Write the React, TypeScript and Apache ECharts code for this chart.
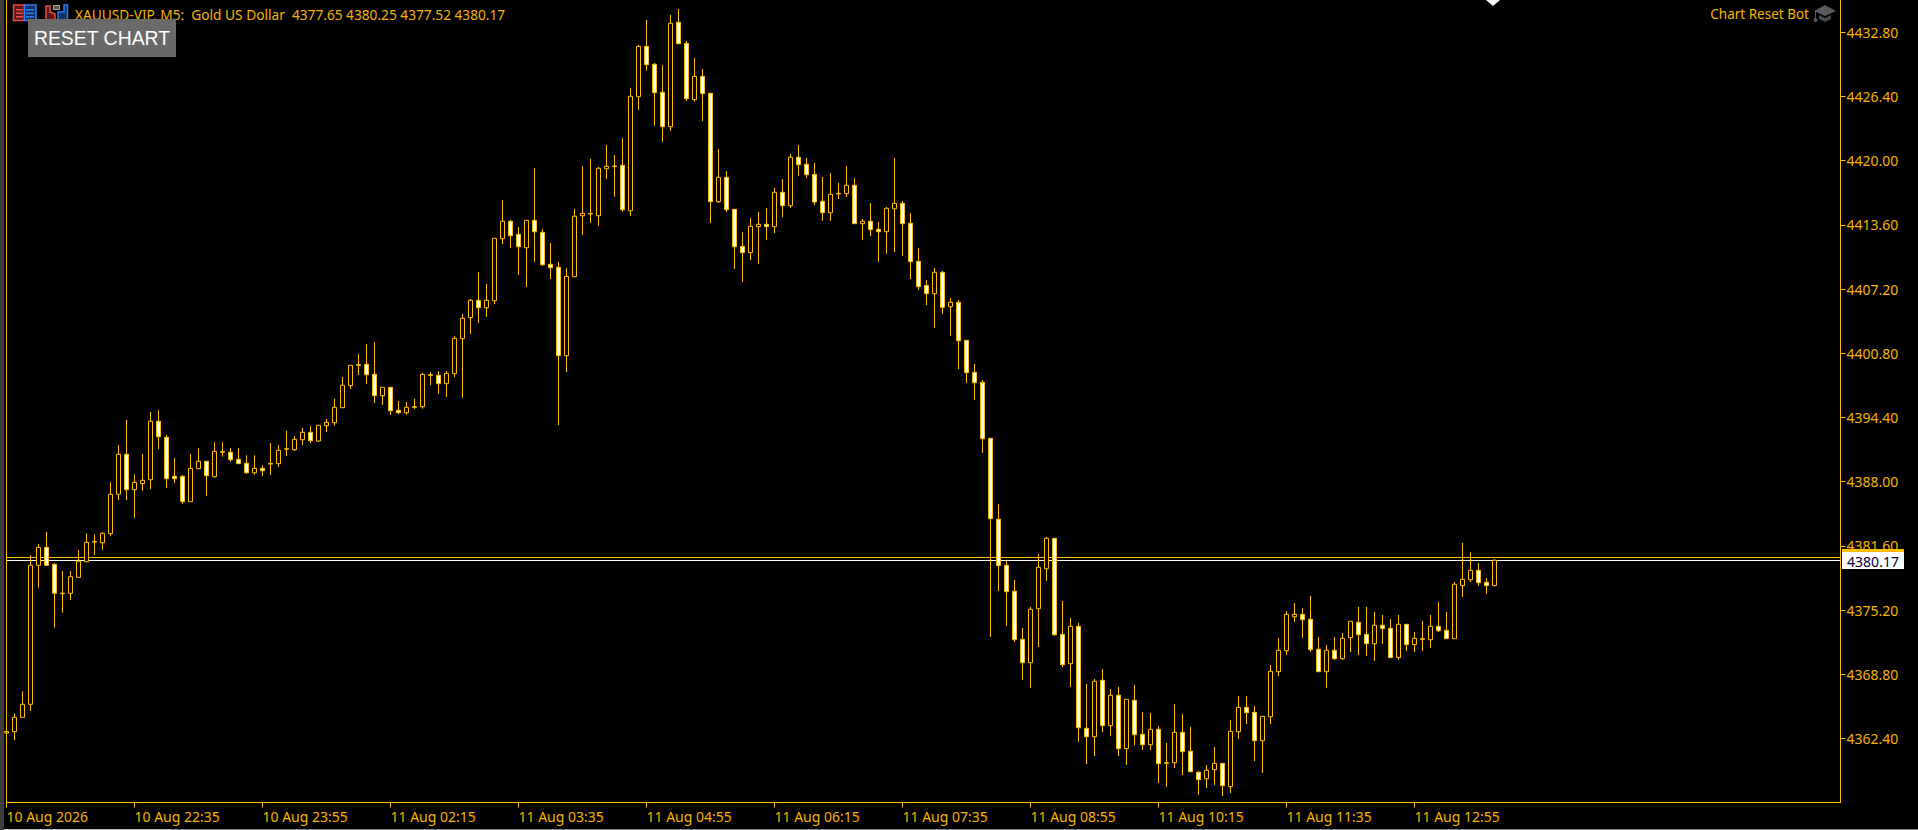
import React, { useEffect, useRef } from "react";
import * as echarts from "echarts";

const opens = [4362.94,4363.07,4364.50,4365.80,4379.66,4381.45,4379.76,4376.88,4376.87,4378.46,4380.02,4381.97,4381.91,4382.81,4386.74,4390.73,4387.20,4387.80,4388.19,4394.02,4392.42,4388.53,4388.53,4386.00,4389.29,4390.03,4388.49,4390.99,4390.93,4390.23,4389.83,4388.89,4389.33,4389.76,4389.79,4391.23,4391.19,4392.18,4392.92,4392.05,4393.58,4393.88,4395.37,4397.57,4399.66,4399.70,4398.70,4396.57,4397.41,4395.11,4394.87,4395.47,4395.47,4398.66,4398.60,4397.77,4398.76,4402.25,4404.35,4406.08,4405.34,4406.04,4412.22,4413.96,4412.66,4411.32,4414.06,4412.86,4409.67,4409.37,4400.56,4408.43,4414.51,4414.74,4414.51,4419.20,4419.47,4419.54,4415.01,4426.38,4431.40,4429.61,4426.82,4423.39,4433.80,4431.70,4426.08,4428.41,4426.72,4415.91,4418.34,4415.15,4411.46,4410.83,4413.42,4413.66,4413.42,4416.85,4415.51,4420.34,4419.64,4418.64,4415.95,4414.81,4416.74,4416.71,4417.55,4413.72,4413.96,4413.16,4412.92,4415.21,4415.75,4413.76,4409.97,4407.56,4406.74,4408.87,4405.44,4405.88,4402.09,4398.90,4397.90,4392.32,4384.25,4379.66,4377.07,4372.28,4369.95,4375.33,4379.32,4382.35,4372.78,4369.85,4373.58,4363.41,4362.57,4368.19,4363.67,4366.70,4361.38,4366.20,4362.81,4361.77,4363.31,4359.98,4359.98,4363.01,4361.12,4359.02,4358.38,4359.28,4359.92,4357.59,4363.07,4365.50,4365.00,4362.17,4364.56,4369.05,4371.15,4374.53,4374.77,4374.28,4371.29,4369.05,4371.19,4370.35,4372.44,4373.98,4372.78,4371.84,4373.68,4373.38,4370.45,4373.78,4371.75,4372.34,4372.24,4373.58,4373.18,4372.34,4377.63,4378.22,4379.16,4377.97,4377.65];
const closes = [4363.09,4364.50,4365.80,4379.66,4381.45,4379.66,4376.87,4376.82,4378.52,4380.06,4381.95,4382.03,4382.85,4386.74,4390.73,4387.20,4387.93,4388.13,4394.02,4392.48,4388.29,4388.29,4386.00,4389.33,4390.03,4388.59,4391.02,4390.93,4390.19,4389.79,4388.89,4389.33,4389.09,4389.82,4391.13,4391.29,4392.22,4392.92,4392.08,4393.62,4393.92,4395.41,4397.61,4399.60,4399.60,4398.66,4396.57,4397.41,4395.07,4394.87,4395.41,4395.41,4398.70,4398.60,4397.77,4398.80,4402.29,4404.29,4406.08,4405.34,4406.08,4412.26,4413.96,4412.52,4411.42,4414.06,4412.92,4409.63,4409.33,4400.56,4408.47,4414.46,4414.75,4414.68,4419.24,4419.44,4419.41,4415.11,4426.42,4431.40,4429.57,4426.78,4423.39,4433.70,4431.66,4426.18,4428.41,4426.68,4415.91,4418.34,4415.11,4411.42,4410.83,4413.46,4413.66,4413.42,4416.85,4415.51,4420.34,4419.60,4418.60,4415.88,4414.81,4416.65,4416.68,4417.55,4413.72,4413.96,4413.12,4412.92,4415.25,4415.75,4413.72,4409.93,4407.44,4406.74,4408.87,4405.38,4405.88,4402.05,4398.86,4397.86,4392.28,4384.31,4379.62,4377.03,4372.24,4369.95,4375.27,4379.46,4382.35,4372.74,4369.75,4373.58,4363.47,4362.57,4368.09,4363.67,4366.70,4361.38,4366.30,4362.77,4361.77,4363.31,4359.88,4359.92,4363.01,4361.08,4359.08,4358.29,4359.22,4359.92,4357.69,4363.11,4365.50,4364.97,4362.17,4364.60,4369.09,4371.19,4374.77,4374.77,4374.24,4371.25,4369.05,4371.19,4370.35,4372.38,4374.08,4372.74,4371.84,4373.68,4373.34,4370.45,4373.78,4371.75,4372.38,4372.28,4373.58,4373.14,4372.34,4377.77,4378.26,4379.16,4377.93,4377.63,4380.17];
const highs = [4363.30,4364.90,4367.10,4380.69,4381.78,4382.98,4379.86,4379.09,4379.09,4381.19,4382.85,4382.75,4382.95,4387.96,4391.65,4394.15,4388.73,4390.76,4394.94,4395.14,4392.65,4390.36,4388.66,4390.76,4391.35,4390.03,4391.92,4391.92,4391.35,4391.35,4390.63,4390.63,4389.63,4391.85,4391.65,4393.05,4392.55,4393.35,4393.55,4393.62,4394.25,4396.24,4398.43,4399.60,4400.73,4401.72,4401.92,4397.41,4397.41,4396.04,4395.94,4396.24,4398.83,4398.93,4399.03,4399.03,4402.52,4404.71,4406.21,4408.90,4407.70,4412.26,4416.08,4414.09,4413.39,4414.06,4419.27,4413.19,4411.79,4409.90,4409.30,4415.18,4419.47,4420.17,4419.37,4421.56,4420.57,4422.26,4427.25,4431.53,4434.03,4429.74,4429.54,4434.52,4435.12,4431.93,4430.24,4429.14,4426.72,4421.17,4418.97,4415.15,4412.89,4414.29,4414.88,4415.28,4417.28,4418.17,4420.67,4421.56,4420.27,4419.77,4418.37,4418.77,4417.78,4419.47,4418.27,4414.19,4415.78,4413.89,4415.38,4420.27,4415.98,4414.78,4411.29,4408.10,4409.30,4409.00,4406.31,4406.11,4402.09,4399.73,4398.13,4392.32,4385.77,4380.09,4378.20,4373.41,4375.50,4380.79,4382.48,4382.35,4376.10,4374.41,4373.91,4367.83,4368.32,4369.32,4367.33,4367.53,4366.30,4367.73,4365.03,4364.93,4363.64,4361.94,4365.83,4364.83,4363.54,4359.15,4359.75,4361.55,4359.92,4364.24,4366.63,4366.63,4365.63,4364.60,4369.72,4372.41,4375.10,4375.90,4375.40,4376.60,4372.51,4371.71,4372.51,4372.91,4374.08,4375.50,4375.50,4375.00,4374.70,4374.31,4374.70,4373.78,4373.01,4374.11,4374.70,4376.00,4375.00,4378.00,4381.88,4380.99,4379.89,4378.39,4380.25];
const lows = [4362.70,4362.24,4364.50,4365.13,4377.43,4379.59,4373.44,4374.93,4376.20,4378.46,4379.96,4380.69,4381.19,4382.58,4386.17,4386.17,4384.38,4387.07,4387.27,4391.26,4387.37,4387.86,4385.77,4386.00,4389.29,4386.57,4388.39,4390.49,4389.99,4389.79,4388.76,4388.69,4388.56,4388.66,4389.46,4390.56,4391.06,4391.65,4391.85,4391.95,4392.95,4393.58,4395.37,4397.24,4398.63,4397.74,4395.84,4395.64,4394.64,4394.74,4394.67,4395.24,4395.27,4397.64,4396.74,4396.44,4398.43,4396.34,4402.72,4403.82,4404.41,4405.71,4411.69,4411.29,4408.60,4407.41,4409.90,4409.50,4408.20,4393.65,4398.93,4408.43,4412.59,4413.79,4413.49,4418.17,4416.41,4414.91,4414.48,4425.05,4428.97,4423.46,4421.86,4422.96,4431.66,4425.95,4425.88,4423.96,4413.79,4415.78,4414.88,4409.20,4407.90,4410.10,4409.70,4412.09,4412.79,4414.39,4415.28,4418.47,4418.27,4415.58,4413.99,4413.99,4416.18,4416.38,4413.72,4412.09,4412.49,4409.90,4410.70,4410.90,4410.50,4408.20,4407.11,4405.61,4403.32,4404.71,4402.52,4399.23,4397.84,4396.14,4390.86,4372.51,4377.10,4373.61,4372.01,4368.22,4367.43,4371.51,4378.10,4372.61,4369.52,4367.53,4362.04,4359.85,4360.65,4363.04,4362.64,4360.65,4359.75,4361.74,4361.24,4361.24,4357.96,4357.56,4359.45,4358.75,4359.08,4356.76,4357.46,4357.76,4356.66,4356.96,4362.34,4363.84,4360.15,4358.95,4363.84,4368.62,4370.72,4374.01,4372.41,4371.02,4369.05,4367.43,4370.22,4370.22,4371.02,4370.72,4370.62,4370.12,4371.81,4370.45,4370.22,4371.12,4371.02,4371.12,4371.41,4373.01,4372.34,4372.34,4376.50,4378.00,4377.60,4376.80,4377.52];

const timeTicks = ["10 Aug 2026","10 Aug 22:35","10 Aug 23:55","11 Aug 02:15","11 Aug 03:35","11 Aug 04:55","11 Aug 06:15","11 Aug 07:35","11 Aug 08:55","11 Aug 10:15","11 Aug 11:35","11 Aug 12:55"];
const priceTicks = [4432.8,4426.4,4420.0,4413.6,4407.2,4400.8,4394.4,4388.0,4381.6,4375.2,4368.8,4362.4];
const bidPrice = 4380.17;
const askPrice = 4380.5;
const headerText = "XAUUSD-VIP, M5:  Gold US Dollar  4377.65 4380.25 4377.52 4380.17";

const GOLD = "#FFBE00";
const TEXT_GOLD = "#F4B400";
const LABEL_FONT = "'Noto Sans', sans-serif";
const SLOTS = 230;
const TICK_EVERY = 16;

export default function App() {
  const ref = useRef<HTMLDivElement>(null);
  useEffect(() => {
    document.body.style.margin = "0";
    document.body.style.overflow = "hidden";
    const chart = echarts.init(ref.current!, null, { renderer: "svg" });
    const categories = Array.from({ length: SLOTS }, (_, i) =>
      i % TICK_EVERY === 0 && i / TICK_EVERY < timeTicks.length ? timeTicks[i / TICK_EVERY] : ""
    );
    const showTick = (i: number) => i % TICK_EVERY === 0 && i / TICK_EVERY < timeTicks.length;
    const rect = (x: number, y: number, w: number, h: number, fill: string, extra: any = {}) => ({
      type: "rect", shape: { x, y, width: w, height: h }, style: { fill, ...extra }, z: 50, silent: true,
    });
    chart.setOption({
      animation: false,
      backgroundColor: "#000000",
      grid: { left: 6.5, top: 0, width: 1832, height: 802.5, containLabel: false },
      xAxis: {
        type: "category",
        data: categories,
        boundaryGap: false,
        axisLine: { show: true, lineStyle: { color: GOLD, width: 1 } },
        axisTick: { show: true, length: 5, interval: (i: number) => showTick(i), lineStyle: { color: GOLD } },
        axisLabel: {
          show: true, interval: (i: number) => showTick(i), color: TEXT_GOLD, align: "left", margin: 7,
          fontFamily: LABEL_FONT, fontSize: 14,
        },
        splitLine: { show: false },
      },
      yAxis: {
        type: "value",
        position: "right",
        offset: 2,
        scale: true,
        min: 4356.01,
        max: 4436.02,
        axisLine: { show: true, lineStyle: { color: GOLD, width: 1 } },
        axisTick: { show: true, length: 5, customValues: priceTicks, lineStyle: { color: GOLD } },
        axisLabel: {
          show: true, customValues: priceTicks, color: TEXT_GOLD, margin: 6,
          fontFamily: LABEL_FONT, fontSize: 14,
          formatter: (v: number) => v.toFixed(2),
        },
        splitLine: { show: false },
      },
      series: [
        {
          type: "candlestick",
          barWidth: 4,
          clip: true,
          z: 3,
          data: opens.map((o, i) => [o, closes[i], lows[i], highs[i]]),
          itemStyle: { color: "#000000", color0: "#FFFFFF", borderColor: GOLD, borderColor0: GOLD, borderWidth: 1 },
          markLine: {
            symbol: "none",
            silent: true,
            z: 1,
            label: { show: false },
            data: [
              { yAxis: askPrice, lineStyle: { color: GOLD, width: 1, type: "solid" } },
              { yAxis: bidPrice, lineStyle: { color: "#FFFFFF", width: 1, type: "solid" } },
            ],
          },
        },
      ],
      graphic: [
        rect(0, 0, 4, 830, "#3C3C3C"),
        rect(6, 0, 1, 803, GOLD),
        rect(6, 802, 1835, 1, GOLD),
        rect(1838, 557, 2, 1, GOLD),
        rect(1838, 560, 2, 1, "#FFFFFF"),
        rect(4, 829, 167, 1, "#BDBDBD"),
        rect(171, 829, 1747, 1, "#8A8A8A"),
        { type: "polygon", z: 50, silent: true, shape: { points: [[1486, 0], [1500, 0], [1493, 6]] }, style: { fill: "#FFFFFF" } },
        // header icons
        rect(13.5, 5, 11, 15.5, "#5A1818", { stroke: "#F04848", lineWidth: 1.5 }),
        rect(24.5, 5, 11.5, 15.5, "#103468", { stroke: "#2F7CF0", lineWidth: 1.5 }),
        rect(16, 9, 7, 1.5, "#F04848"), rect(16, 12.5, 7, 1.5, "#F04848"), rect(16, 16, 7, 1.5, "#F04848"),
        rect(26, 9, 8, 1.5, "#2F7CF0"), rect(26, 12.5, 8, 1.5, "#2F7CF0"), rect(26, 16, 8, 1.5, "#2F7CF0"),
        { type: "polygon", z: 50, silent: true, shape: { points: [[46, 6], [50, 6], [50, 12], [55, 14], [55, 20.5], [46, 20.5]] }, style: { fill: "#5A1818", stroke: "#F04848", lineWidth: 1.5 } },
        { type: "polygon", z: 50, silent: true, shape: { points: [[58, 12], [64, 12], [64, 5], [67.5, 5], [67.5, 20.5], [58, 20.5]] }, style: { fill: "#103468", stroke: "#2F7CF0", lineWidth: 1.5 } },
        rect(53.5, 5.5, 6, 4, "#555555", { stroke: "#AAAAAA", lineWidth: 1 }),
        {
          type: "text", z: 50, silent: true, x: 75, y: 14,
          style: { text: headerText, fill: TEXT_GOLD, font: `13.7px ${LABEL_FONT}`, verticalAlign: "middle", textAlign: "left" },
        },
        rect(28, 19, 148, 38, "#696969"),
        {
          type: "text", z: 51, silent: true, x: 102, y: 38,
          style: { text: "RESET CHART", fill: "#FFFFFF", font: "19.4px 'Liberation Sans', Arial, sans-serif", verticalAlign: "middle", textAlign: "center" },
        },
        {
          type: "text", z: 50, silent: true, x: 1809, y: 14,
          style: { text: "Chart Reset Bot", fill: TEXT_GOLD, font: `13.5px ${LABEL_FONT}`, verticalAlign: "middle", textAlign: "right" },
        },
        // mortarboard icon
        { type: "polygon", z: 50, silent: true, shape: { points: [[1814, 11], [1825, 5], [1836, 11], [1825, 16]] }, style: { fill: "#5A5A5A" } },
        { type: "polygon", z: 50, silent: true, shape: { points: [[1819, 15], [1825, 18], [1831, 15], [1831, 19], [1825, 22], [1819, 19]] }, style: { fill: "#4A4A4A" } },
        rect(1815, 11, 1, 8, "#5A5A5A"),
        { type: "circle", z: 50, silent: true, shape: { cx: 1815.5, cy: 20, r: 2 }, style: { fill: "#5A5A5A" } },
        // last price tag
        rect(1842, 549, 62, 3, GOLD),
        rect(1842, 552, 62, 17, "#FFFFFF"),
        {
          type: "text", z: 51, silent: true, x: 1873, y: 561,
          style: { text: bidPrice.toFixed(2), fill: "#000033", font: `14px ${LABEL_FONT}`, verticalAlign: "middle", textAlign: "center" },
        },
      ],
    });
    return () => chart.dispose();
  }, []);
  return <div ref={ref} style={{ position: "absolute", left: 0, top: 0, width: 1918, height: 830, background: "#000" }} />;
}
